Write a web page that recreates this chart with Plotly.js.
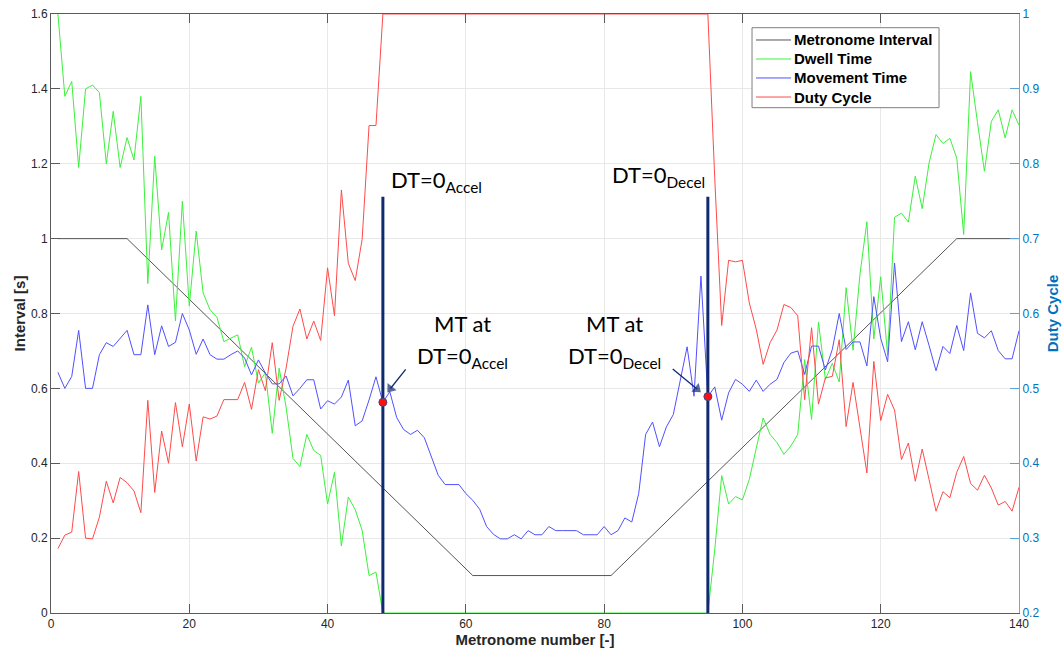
<!DOCTYPE html>
<html>
<head>
<meta charset="utf-8">
<script src="https://cdn.plot.ly/plotly-3.0.1.min.js"></script>
<style>
html,body{margin:0;padding:0;background:#fff;}
#chart{width:1064px;height:655px;}
</style>
</head>
<body>
<div id="chart"></div>
<script>
// Metronome interval breakpoints (piecewise linear profile)
var metroX = [1, 11, 61, 81, 131, 140];
var metroY = [1, 1, 0.1, 0.1, 1, 1];

// Dwell time [s], metronome numbers 1..140
var dwellTime = [
 1.60,1.38,1.42,1.19,1.40,1.41,1.39,1.20,1.34,1.19,
 1.27,1.21,1.38,0.88,1.22,0.97,1.07,0.78,1.10,0.82,
 1.02,0.855,0.81,0.79,0.725,0.735,0.743,0.658,0.71,0.614,
 0.642,0.48,0.654,0.55,0.413,0.391,0.477,0.434,0.421,0.291,
 0.376,0.179,0.31,0.276,0.221,0.10,0.109,0,0,0,
 0,0,0,0,0,0,0,0,0,0,
 0,0,0,0,0,0,0,0,0,0,
 0,0,0,0,0,0,0,0,0,0,
 0,0,0,0,0,0,0,0,0,0,
 0,0,0,0,0,0.17,0.367,0.291,0.311,0.302,
 0.357,0.44,0.521,0.477,0.455,0.424,0.446,0.477,0.677,0.517,
 0.777,0.624,0.667,0.617,0.869,0.702,0.905,1.045,0.732,0.898,
 0.688,1.057,1.068,1.044,1.167,1.080,1.203,1.278,1.254,1.268,
 1.215,1.011,1.446,1.310,1.180,1.313,1.344,1.269,1.344,1.303
];

// Movement time [s]
var movementTime = [
 0.643,0.600,0.632,0.755,0.600,0.600,0.690,0.722,0.712,0.734,
 0.755,0.690,0.690,0.823,0.690,0.767,0.712,0.723,0.800,0.756,
 0.691,0.732,0.690,0.678,0.678,0.690,0.700,0.681,0.636,0.676,
 0.641,0.612,0.612,0.633,0.580,0.600,0.623,0.623,0.545,0.567,
 0.558,0.577,0.622,0.500,0.513,0.569,0.631,0.563,0.591,0.522,
 0.490,0.477,0.488,0.468,0.417,0.368,0.343,0.343,0.343,0.319,
 0.301,0.277,0.231,0.210,0.198,0.198,0.209,0.198,0.220,0.209,
 0.209,0.231,0.220,0.220,0.220,0.220,0.209,0.209,0.209,0.231,
 0.209,0.220,0.254,0.243,0.319,0.477,0.510,0.444,0.497,0.530,
 0.620,0.711,0.579,0.900,0.578,0.604,0.515,0.588,0.624,0.611,
 0.592,0.622,0.592,0.611,0.624,0.669,0.694,0.700,0.637,0.713,
 0.713,0.649,0.704,0.800,0.704,0.724,0.724,0.660,0.845,0.734,
 0.671,0.935,0.725,0.778,0.703,0.778,0.714,0.647,0.712,0.693,
 0.768,0.701,0.855,0.747,0.735,0.754,0.701,0.679,0.679,0.754
];

// Duty cycle (right axis)
var dutyCycle = [
 0.286,0.304,0.308,0.389,0.300,0.299,0.328,0.376,0.347,0.381,
 0.374,0.363,0.334,0.484,0.361,0.443,0.400,0.481,0.422,0.479,
 0.403,0.462,0.459,0.463,0.485,0.485,0.485,0.508,0.472,0.525,
 0.497,0.561,0.484,0.527,0.583,0.606,0.566,0.590,0.564,0.661,
 0.597,0.765,0.667,0.644,0.699,0.851,0.851,1,1,1,
 1,1,1,1,1,1,1,1,1,1,
 1,1,1,1,1,1,1,1,1,1,
 1,1,1,1,1,1,1,1,1,1,
 1,1,1,1,1,1,1,1,1,1,
 1,1,1,1,1,0.78,0.584,0.671,0.669,0.671,
 0.614,0.579,0.532,0.561,0.578,0.612,0.608,0.597,0.485,0.581,
 0.479,0.514,0.516,0.565,0.449,0.508,0.446,0.387,0.536,0.457,
 0.492,0.471,0.405,0.427,0.376,0.419,0.378,0.336,0.362,0.354,
 0.388,0.409,0.373,0.364,0.384,0.367,0.344,0.349,0.336,0.368
];

// Series names (legend) and colours
var seriesNames = ['Metronome Interval', 'Dwell Time', 'Movement Time', 'Duty Cycle'];
var seriesColors = ['#555555', '#3cf03c', '#5050ff', '#ff4a4a'];

// DT = 0 events (metronome numbers) and height of the marker lines
var dtZeroIdx = [48, 95];
var dtLineTop = 1.112;

var xTicks = [0, 20, 40, 60, 80, 100, 120, 140];

var n = [];
for (var i = 1; i <= dwellTime.length; i++) n.push(i);

var navy = '#0f2a6e';
var axisGrey = '#5a5a5a';
var blueAxis = '#0072BD';

var traces = [
  {x: metroX, y: metroY, name: seriesNames[0], mode: 'lines',
   line: {color: seriesColors[0], width: 1}},
  {x: n, y: dwellTime, name: seriesNames[1], mode: 'lines',
   line: {color: seriesColors[1], width: 1}},
  {x: n, y: movementTime, name: seriesNames[2], mode: 'lines',
   line: {color: seriesColors[2], width: 1}},
  {x: n, y: dutyCycle, name: seriesNames[3], mode: 'lines', yaxis: 'y2',
   line: {color: seriesColors[3], width: 1}}
];

dtZeroIdx.forEach(function (k) {
  traces.push({x: [k, k], y: [0, dtLineTop], mode: 'lines', showlegend: false,
    line: {color: navy, width: 3}});
});

// pointer arrows (tail -> head), drawn as line + oriented triangle marker
var arrowPaths = [
  {x: [51.30, 49.10], y: [0.651, 0.5996]},
  {x: [89.92, 93.43], y: [0.6517, 0.5983]}
];
arrowPaths.forEach(function (p) {
  traces.push({x: p.x, y: p.y, mode: 'lines+markers', showlegend: false,
    line: {color: navy, width: 1.3},
    marker: {symbol: 'triangle-up', angleref: 'previous', size: [0, 10], color: navy,
      line: {width: 0}}});
});

traces.push({x: dtZeroIdx, y: dtZeroIdx.map(function (k) { return movementTime[k - 1]; }),
  mode: 'markers', showlegend: false,
  marker: {color: '#ff1010', size: 8, line: {color: '#3a4a8a', width: 1}}});

var annFont = {family: 'Lato, "Open Sans", sans-serif', size: 22, color: '#000'};

var annotations = [
  {x: 55.7, y: 1.155, xref: 'x', yref: 'y', text: 'DT=0<sub>Accel</sub>', showarrow: false,
   xanchor: 'center', yanchor: 'middle', font: annFont},
  {x: 87.8, y: 1.168, xref: 'x', yref: 'y', text: 'DT=0<sub>Decel</sub>', showarrow: false,
   xanchor: 'center', yanchor: 'middle', font: annFont},
  {x: 59.5, y: 0.773, xref: 'x', yref: 'y', text: 'MT at', showarrow: false,
   xanchor: 'center', yanchor: 'middle', font: annFont},
  {x: 59.5, y: 0.685, xref: 'x', yref: 'y', text: 'DT=0<sub>Accel</sub>', showarrow: false,
   xanchor: 'center', yanchor: 'middle', font: annFont},
  {x: 81.5, y: 0.773, xref: 'x', yref: 'y', text: 'MT at', showarrow: false,
   xanchor: 'center', yanchor: 'middle', font: annFont},
  {x: 81.5, y: 0.685, xref: 'x', yref: 'y', text: 'DT=0<sub>Decel</sub>', showarrow: false,
   xanchor: 'center', yanchor: 'middle', font: annFont}
];

// Custom legend box (paper coordinates)
var legX0 = 0.7242, legX1 = 0.9174, legTop = 0.9771, legBottom = 0.8436;
var legRows = [0.9566, 0.9249, 0.8932, 0.8614];
var shapes = [
  {type: 'rect', xref: 'paper', yref: 'paper', x0: legX0, x1: legX1, y0: legBottom, y1: legTop,
   line: {color: '#7f7f7f', width: 1}, fillcolor: '#ffffff', layer: 'above'}
];
legRows.forEach(function (ry, k) {
  shapes.push({type: 'line', xref: 'paper', yref: 'paper', x0: 0.7283, x1: 0.7645, y0: ry, y1: ry,
    line: {color: seriesColors[k], width: 1}, layer: 'above'});
  annotations.push({xref: 'paper', yref: 'paper', x: 0.7655, y: ry, text: seriesNames[k],
    showarrow: false, xanchor: 'left', yanchor: 'middle',
    font: {family: '"Liberation Sans", Arial, sans-serif', size: 15, weight: 'bold', color: '#000'}});
});

var layout = {
  width: 1064, height: 655,
  margin: {l: 51, r: 45, t: 14, b: 42},
  paper_bgcolor: '#ffffff', plot_bgcolor: '#ffffff',
  font: {family: '"Liberation Sans", Arial, sans-serif', size: 12, color: '#262626'},
  showlegend: false,
  xaxis: {range: [0, 140], tickvals: xTicks, ticks: 'inside', ticklen: 9, tickcolor: axisGrey,
    showline: true, linecolor: axisGrey, linewidth: 1, mirror: 'ticks',
    showgrid: true, gridcolor: '#e8e8e8', zeroline: false,
    tickfont: {size: 12, color: '#262626'},
    title: {text: 'Metronome number [-]', standoff: 4,
      font: {size: 15, weight: 'bold', color: '#262626'}}},
  yaxis: {range: [0, 1.6], dtick: 0.2, tick0: 0, ticks: 'inside', ticklen: 9, tickcolor: axisGrey,
    showline: true, linecolor: axisGrey, linewidth: 1,
    showgrid: true, gridcolor: '#e8e8e8', zeroline: false,
    tickfont: {size: 12, color: '#262626'},
    title: {text: 'Interval [s]', standoff: 1,
      font: {size: 15, weight: 'bold', color: '#262626'}}},
  yaxis2: {overlaying: 'y', side: 'right', range: [0.2, 1], dtick: 0.1, tick0: 0.2,
    ticks: 'inside', ticklen: 9, tickcolor: '#5fa3d6',
    showline: true, linecolor: '#6aaadc', linewidth: 1,
    showgrid: false, zeroline: false,
    tickfont: {size: 12, color: blueAxis},
    title: {text: 'Duty Cycle', standoff: 9,
      font: {size: 15, weight: 'bold', color: blueAxis}}},
  shapes: shapes,
  annotations: annotations
};

Plotly.newPlot('chart', traces, layout, {displayModeBar: false, staticPlot: true});
</script>
</body>
</html>
